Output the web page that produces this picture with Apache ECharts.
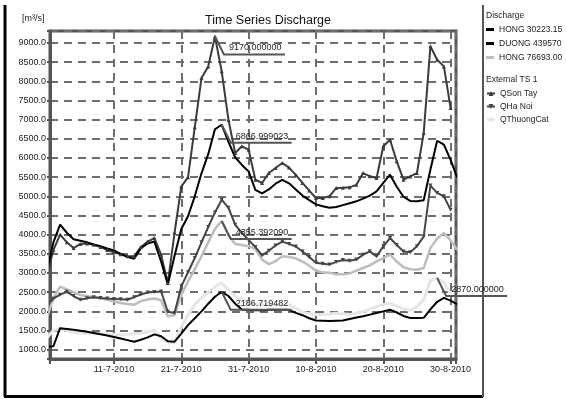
<!DOCTYPE html>
<html><head><meta charset="utf-8">
<script src="https://cdn.jsdelivr.net/npm/echarts@6/dist/echarts.min.js"></script>
<style>html,body{margin:0;padding:0;background:#fff}#c{width:566px;height:399px}</style>
</head><body><div id="c"></div>
<script>
// x = day number counted from 1-7-2010 (day 0)
const days = [0,1,2,3,4,5,6,7,8,9,10,11,12,13,14,15,16,17,18,19,20,21,22,23,24,25,26,27,28,29,30,31,32,33,34,35,36,37,38,39,40,41,42,43,44,45,46,47,48,49,50,51,52,53,54,55,56,57,58,59,60,61];
const xTickDays = [10,20,30,40,50,60];
const xTickLabels = ['11-7-2010','21-7-2010','31-7-2010','10-8-2010','20-8-2010','30-8-2010'];

const seriesNames = ['HONG 30223.15','DUONG 439570','HONG 76693.00','QSon Tay','QHa Noi','QThuongCat'];

const hong1 = [3000,3800,4260,4050,3880,3840,3800,3745,3700,3640,3590,3500,3420,3370,3650,3770,3820,3300,2700,3450,4150,4480,5000,5600,6100,6750,6867,6420,6020,5820,5650,5170,5080,5180,5330,5430,5340,5180,5020,4900,4790,4740,4700,4720,4770,4820,4870,4940,5020,5130,5350,5564,5250,4990,4880,4870,4900,5700,6450,6350,5950,5480];
const duong = [1080,1090,1560,1540,1520,1495,1470,1435,1400,1370,1330,1290,1250,1205,1260,1320,1400,1350,1220,1209,1420,1640,1820,2000,2200,2380,2510,2400,2200,2050,2040,2030,2030,2040,2040,2040,2040,1960,1900,1820,1760,1755,1750,1755,1760,1800,1840,1870,1915,1957,2000,2043,1970,1880,1826,1826,1830,2050,2250,2350,2280,2180];
const hong3 = [1800,2350,2643,2570,2500,2426,2400,2370,2340,2300,2255,2220,2190,2170,2270,2310,2335,2290,1871,1900,2435,2780,3100,3440,3800,4150,4355,3990,3757,3730,3700,3630,3350,3230,3310,3435,3420,3385,3300,3190,3060,3018,3010,2970,2970,2990,3060,3130,3200,3305,3390,3478,3300,3150,3100,3087,3130,3650,3900,4043,3850,3600];
const qSonTay = [2900,3600,4000,3800,3650,3760,3770,3740,3680,3600,3540,3490,3435,3435,3680,3820,3913,3478,2740,4050,5255,5500,6800,8086,8390,9170,8260,7000,6130,6305,6216,5434,5348,5608,5740,5869,5750,5560,5350,5150,4956,4956,5000,5217,5225,5235,5300,5608,5522,5478,6305,6477,5913,5434,5520,5608,6651,8913,8563,8390,7303,null];
const qHaNoi = [2150,2330,2435,2510,2400,2304,2340,2367,2350,2335,2325,2315,2304,2370,2440,2490,2505,2520,1990,1957,2653,3020,3391,3800,4200,4580,4912,4700,4260,4043,3860,3680,3460,3580,3720,3820,3760,3690,3560,3420,3270,3240,3220,3290,3340,3320,3350,3478,3565,3435,3696,3913,3730,3560,3540,3700,3950,5280,5090,5000,4651,null];
const qThuongCat = [1300,1500,1550,1500,1460,1430,1427,1425,1420,1400,1390,1385,1400,1415,1430,1470,1510,1300,1200,1180,1600,1900,2180,2350,2500,2640,2740,2560,2400,2290,2230,2180,2175,2175,2175,2175,2170,2080,1980,1940,1920,1915,1930,1950,1940,1915,1950,1990,2060,2120,2180,2210,2140,2060,2020,2120,2300,2800,2870,2750,2450,null];

// annotations: which series / which data index / text
const annSeries = [qSonTay, hong1, hong3, duong, qThuongCat];
const annIndex = [25, 26, 26, 26, 58];
const annText = ['9170.000000','6866.999023','4355.392090','2186.719482','2870.000000'];

const FONT = 'Liberation Sans, Arial, sans-serif';
function pairs(arr){ return days.map((d,i)=>[d, arr[i]]); }
const tickMap = {}; xTickDays.forEach((d,i)=>tickMap[d]=xTickLabels[i]);

const chart = echarts.init(document.getElementById('c'), null, {renderer:'canvas'});
const gridDash = {color:'#6e6e6e', width:2, type:[8,6]};

const lineSeries = (name, data, color, width, extra) => Object.assign({
  name, type:'line', data:pairs(data), symbol:'none', connectNulls:false,
  lineStyle:{color, width}, itemStyle:{color}, animation:false
}, extra||{});

const legendText = {fontSize:8.5, color:'#222', fontFamily:FONT, lineHeight:11};

chart.setOption({
  animation:false,
  grid:{left:50, right:110, top:31, bottom:40, show:true, borderColor:'#555', borderWidth:3, backgroundColor:'transparent'},
  xAxis:{type:'value', min:0.5, max:60.8, splitNumber:6,
    axisLine:{show:true, lineStyle:{color:'#555', width:3}},
    axisTick:{show:true, length:5, lineStyle:{color:'#555', width:2}},
    minorTick:{show:true, splitNumber:10, length:2, lineStyle:{color:'#555', width:1}},
    splitLine:{show:true, lineStyle:gridDash},
    axisLabel:{fontSize:9, color:'#222', fontFamily:FONT, margin:6, showMinLabel:false, showMaxLabel:false,
      formatter:v => tickMap[Math.round(v*1000)/1000] || ''}
  },
  yAxis:{type:'value', min:757, max:9313, splitNumber:17,
    axisLine:{show:true, lineStyle:{color:'#555', width:3}},
    axisTick:{show:true, length:3, lineStyle:{color:'#555', width:2}},
    splitLine:{show:true, lineStyle:gridDash},
    axisLabel:{fontSize:9, color:'#222', fontFamily:FONT, margin:4,
      formatter:v => (Math.abs(v % 500) < 1e-6 ? v.toFixed(1) : '')}
  },
  legend:[
    {data:[{name:seriesNames[0], icon:'rect'},{name:seriesNames[1], icon:'rect'},{name:seriesNames[2], icon:'rect'}],
     orient:'vertical', left:486, top:24, padding:0,
     itemWidth:8, itemHeight:3, itemGap:3, textStyle:legendText},
    {data:[{name:seriesNames[3]},{name:seriesNames[4]},{name:seriesNames[5]}],
     orient:'vertical', left:486, top:88, padding:0,
     itemWidth:8, itemHeight:6, itemGap:2, textStyle:legendText}
  ],
  graphic:[
    {type:'text', x:268, y:21, style:{text:'Time Series Discharge', font:'12.5px '+FONT, fill:'#111', align:'center', verticalAlign:'middle'}},
    {type:'text', x:22, y:19, style:{text:'[m³/s]', font:'9px '+FONT, fill:'#222', align:'left', verticalAlign:'middle'}},
    {type:'text', x:486, y:16, style:{text:'Discharge', font:'8.5px '+FONT, fill:'#222', align:'left', verticalAlign:'middle'}},
    {type:'text', x:486, y:80, style:{text:'External TS 1', font:'8.5px '+FONT, fill:'#222', align:'left', verticalAlign:'middle'}},
    {type:'line', shape:{x1:5, y1:5, x2:5, y2:397}, style:{stroke:'#000', lineWidth:3}},
    {type:'line', shape:{x1:4, y1:396.5, x2:483, y2:396.5}, style:{stroke:'#000', lineWidth:3}},
    {type:'line', shape:{x1:483, y1:5, x2:483, y2:397}, style:{stroke:'#555', lineWidth:2}}
  ],
  series:[
    lineSeries(seriesNames[5], qThuongCat, '#e6e6e6', 3),
    lineSeries(seriesNames[2], hong3, '#bdbdbd', 2.5),
    lineSeries(seriesNames[4], qHaNoi, '#464646', 2, {symbol:'triangle', symbolRotate:180, symbolSize:4, showSymbol:true}),
    lineSeries(seriesNames[3], qSonTay, '#3c3c3c', 2, {symbol:'triangle', symbolSize:4, showSymbol:true}),
    lineSeries(seriesNames[1], duong, '#000000', 2),
    lineSeries(seriesNames[0], hong1, '#000000', 2),
    {type:'custom', name:'annotations', clip:false, z:5,
     data: annSeries.map((arr,k)=>[days[annIndex[k]], arr[annIndex[k]]]),
     renderItem:(params, api) => {
       const p = api.coord([api.value(0), api.value(1)]);
       const cx = p[0] + 9, cy = p[1] + 18;
       return {type:'group', children:[
         {type:'polyline', shape:{points:[p,[cx,cy],[cx+61,cy]]}, style:{stroke:'#555', lineWidth:2, fill:null}},
         {type:'text', x:cx+5, y:cy-2, style:{text:annText[params.dataIndex], font:'9px '+FONT, fill:'#222', align:'left', verticalAlign:'bottom'}}
       ]};
     }}
  ]
});
</script></body></html>
